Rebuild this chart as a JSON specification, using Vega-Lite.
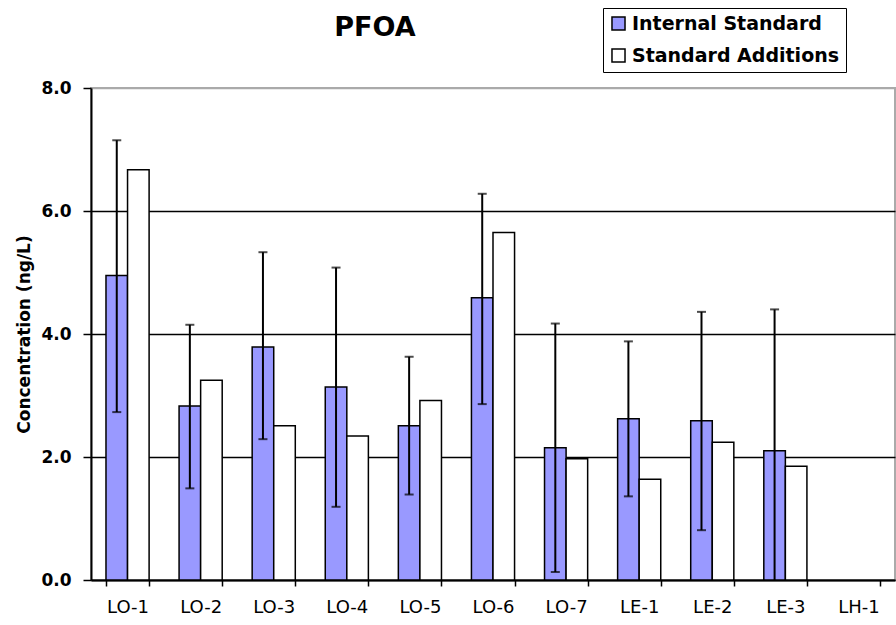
{
  "$schema": "https://vega.github.io/schema/vega-lite/v6.json",
  "autosize": "none",
  "padding": {"left": 91, "top": 88, "right": 1, "bottom": 45},
  "width": 804,
  "height": 492,
  "background": "white",
  "config": {
    "view": {"stroke": "#aaaaaa", "strokeWidth": 2},
    "font": "DejaVu Sans"
  },
  "title": {
    "text": "PFOA",
    "font": "DejaVu Sans",
    "fontSize": 27,
    "fontWeight": "bold",
    "color": "black",
    "anchor": "middle",
    "dx": -118,
    "offset": -34
  },
  "datasets": {
    "bars": [
      {"sample": "LO-1", "series": "Internal Standard", "value": 4.95},
      {"sample": "LO-1", "series": "Standard Additions", "value": 6.67},
      {"sample": "LO-2", "series": "Internal Standard", "value": 2.83},
      {"sample": "LO-2", "series": "Standard Additions", "value": 3.25},
      {"sample": "LO-3", "series": "Internal Standard", "value": 3.79},
      {"sample": "LO-3", "series": "Standard Additions", "value": 2.51},
      {"sample": "LO-4", "series": "Internal Standard", "value": 3.14},
      {"sample": "LO-4", "series": "Standard Additions", "value": 2.34},
      {"sample": "LO-5", "series": "Internal Standard", "value": 2.51},
      {"sample": "LO-5", "series": "Standard Additions", "value": 2.92},
      {"sample": "LO-6", "series": "Internal Standard", "value": 4.59},
      {"sample": "LO-6", "series": "Standard Additions", "value": 5.65},
      {"sample": "LO-7", "series": "Internal Standard", "value": 2.15},
      {"sample": "LO-7", "series": "Standard Additions", "value": 1.97},
      {"sample": "LE-1", "series": "Internal Standard", "value": 2.62},
      {"sample": "LE-1", "series": "Standard Additions", "value": 1.64},
      {"sample": "LE-2", "series": "Internal Standard", "value": 2.59},
      {"sample": "LE-2", "series": "Standard Additions", "value": 2.24},
      {"sample": "LE-3", "series": "Internal Standard", "value": 2.10},
      {"sample": "LE-3", "series": "Standard Additions", "value": 1.85}
    ],
    "errors": [
      {"sample": "LO-1", "series": "Internal Standard", "hi": 7.15, "lo": 2.73},
      {"sample": "LO-2", "series": "Internal Standard", "hi": 4.15, "lo": 1.49},
      {"sample": "LO-3", "series": "Internal Standard", "hi": 5.33, "lo": 2.29},
      {"sample": "LO-4", "series": "Internal Standard", "hi": 5.08, "lo": 1.19},
      {"sample": "LO-5", "series": "Internal Standard", "hi": 3.63, "lo": 1.39},
      {"sample": "LO-6", "series": "Internal Standard", "hi": 6.28, "lo": 2.86},
      {"sample": "LO-7", "series": "Internal Standard", "hi": 4.17, "lo": 0.13},
      {"sample": "LE-1", "series": "Internal Standard", "hi": 3.88, "lo": 1.36},
      {"sample": "LE-2", "series": "Internal Standard", "hi": 4.36, "lo": 0.81},
      {"sample": "LE-3", "series": "Internal Standard", "hi": 4.40, "lo": -0.3}
    ]
  },
  "encoding": {
    "x": {
      "field": "sample",
      "type": "nominal",
      "sort": null,
      "scale": {
        "domain": ["LO-1","LO-2","LO-3","LO-4","LO-5","LO-6","LO-7","LE-1","LE-2","LE-3","LH-1"],
        "paddingInner": 0.41,
        "paddingOuter": 0.205
      },
      "axis": {
        "title": null,
        "labelAngle": 0,
        "labelFont": "DejaVu Sans",
        "labelFontSize": 18,
        "labelColor": "black",
        "labelPadding": 12,
        "tickBand": "extent",
        "tickSize": 6,
        "tickColor": "black",
        "tickWidth": 1.5,
        "domainColor": "black",
        "domainWidth": 2
      }
    },
    "xOffset": {
      "field": "series",
      "type": "nominal",
      "scale": {"domain": ["Internal Standard", "Standard Additions"], "paddingInner": 0, "paddingOuter": 0}
    }
  },
  "layer": [
    {
      "data": {"name": "bars"},
      "mark": {"type": "bar", "stroke": "black", "strokeWidth": 1.5},
      "encoding": {
        "y": {
          "field": "value",
          "type": "quantitative",
          "scale": {"domain": [0, 8], "nice": false},
          "axis": {
            "title": "Concentration (ng/L)",
            "titleFont": "DejaVu Sans",
            "titleFontSize": 17,
            "titleFontWeight": "bold",
            "titleColor": "black",
            "titlePadding": 7,
            "values": [0, 2, 4, 6, 8],
            "format": ".1f",
            "labelFont": "DejaVu Sans",
            "labelFontSize": 17,
            "labelFontWeight": "bold",
            "labelColor": "black",
            "labelPadding": 12,
            "tickSize": 8,
            "tickColor": "black",
            "tickWidth": 1.5,
            "domainColor": "black",
            "domainWidth": 2,
            "grid": true,
            "gridWidth": 1.5,
            "gridColor": {"condition": {"test": "datum.value >= 8", "value": "#aaaaaa"}, "value": "black"}
          }
        },
        "fill": {
          "field": "series",
          "type": "nominal",
          "scale": {"domain": ["Internal Standard", "Standard Additions"], "range": ["#9999FF", "#FFFFFF"]},
          "legend": {
            "title": null,
            "orient": "none",
            "legendX": 512,
            "legendY": -80,
            "strokeColor": "black",
            "fillColor": "white",
            "padding": 6,
            "symbolType": "square",
            "symbolSize": 170,
            "symbolStrokeColor": "black",
            "symbolStrokeWidth": 1.5,
            "labelFont": "DejaVu Sans",
            "labelFontSize": 19,
            "labelFontWeight": "bold",
            "labelColor": "black",
            "labelLimit": 400,
            "rowPadding": 11,
            "labelOffset": 4
          }
        }
      }
    },
    {
      "data": {"name": "errors"},
      "mark": {"type": "rule", "color": "black", "strokeWidth": 2, "clip": true},
      "encoding": {
        "y": {"field": "lo", "type": "quantitative"},
        "y2": {"field": "hi"}
      }
    },
    {
      "data": {"name": "errors"},
      "mark": {"type": "tick", "color": "black", "thickness": 2, "size": 9, "clip": true},
      "encoding": {
        "y": {"field": "hi", "type": "quantitative"}
      }
    },
    {
      "data": {"name": "errors"},
      "mark": {"type": "tick", "color": "black", "thickness": 2, "size": 9, "clip": true},
      "encoding": {
        "y": {"field": "lo", "type": "quantitative"}
      }
    }
  ]
}
